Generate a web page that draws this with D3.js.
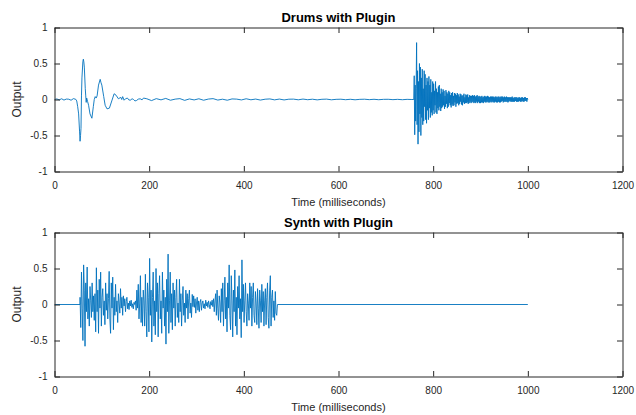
<!DOCTYPE html>
<html><head><meta charset="utf-8">
<script src="https://cdn.jsdelivr.net/npm/d3@7"></script>
<style>
html,body{margin:0;padding:0;background:#fff;}
svg{display:block;font-family:Arial,"Liberation Sans",Helvetica,sans-serif;}
</style></head>
<body><svg id="c" width="636" height="415"></svg>
<script>
// ---------------- data ----------------
const xTicks = [0, 200, 400, 600, 800, 1000, 1200];
const yTicks = [-1, -0.5, 0, 0.5, 1];
const titles = ["Drums with Plugin", "Synth with Plugin"];
const xLabel = "Time (milliseconds)";
const yLabel = "Output";

// Drums: initial transient (time ms, value)
const drumHitT = [0,5,10,15,20,25,30,35,40,45,47,49,51,53,54,55,56,57,58,60,61,62,63,65,66,67,68,70,72,75,79,82,84,86,88,90,93,96.5,98,100,104,107,111,116,121,126,130,135,140,142,144,147,150,154,157,160,164,167,170,173,177,181,185,188];
const drumHitV = [0,0.008,-0.005,0.01,-0.008,0.006,0.004,-0.01,0.012,0.002,-0.02,-0.1,-0.2,-0.45,-0.58,-0.5,-0.4,0.05,0.3,0.53,0.56,0.52,0.45,0.15,0.05,-0.04,0.02,-0.03,-0.08,-0.2,-0.26,-0.1,0.0,0.04,0.02,0.05,0.2,0.28,0.24,0.2,0.04,-0.08,-0.13,-0.12,-0.02,0.08,0.06,0.01,0.03,0.0,0.04,-0.01,0.01,0.02,-0.005,-0.01,0.01,0.0,-0.02,-0.015,0.005,0.01,-0.005,0.02];
// Drums: quiet section (time ms, value)
const drumQuietT = [195,205,215,225,235,245,255,265,275,285,295,305,315,325,335,345,355,365,375,385,395,405,415,425,435,445,455,465,475,485,495,505,515,525,535,545,555,565,575,585,595,605,615,625,635,645,655,665,675,685,695,705,715,725,735,745,755,759];
const drumQuietV = [0.01,-0.015,0.012,-0.005,0.015,-0.01,0.005,0.012,-0.012,0.008,-0.006,0.01,-0.01,0.006,0.012,-0.008,0.004,-0.01,0.008,0.005,-0.006,0.01,-0.004,0.006,-0.008,0.004,0.008,-0.005,0.006,-0.006,0.004,0.005,-0.004,0.006,-0.003,0.004,-0.005,0.003,0.005,-0.004,0.002,0.004,-0.003,0.003,-0.004,0.002,0.004,-0.002,0.003,-0.003,0.002,0.003,-0.002,0.002,-0.003,0.002,0.0,0.0];
// Drums: second hit, one value per ms starting at 760 ms
const drumBurstStart = 760, drumBurstStep = 1;
const drumBurstV = [
0.33,-0.49,0.2,-0.3,0.15,0.79,-0.35,0.4,-0.62,0.25,
-0.45,0.5,-0.2,0.45,-0.5,0.3,-0.25,0.42,-0.35,0.15,
-0.3,0.4,-0.1,0.35,-0.28,0.2,-0.33,0.3,-0.15,0.25,
-0.28,0.32,-0.12,0.2,-0.25,0.28,-0.18,0.1,-0.22,0.25,
-0.15,0.22,-0.2,0.12,-0.08,0.25,-0.18,0.15,-0.2,0.1,
-0.12,0.18,-0.15,0.2,-0.1,0.08,-0.16,0.15,-0.12,0.1,
-0.1,0.14,-0.08,0.12,-0.13,0.05,-0.1,0.13,-0.06,0.1,
-0.12,0.08,-0.1,0.12,-0.05,0.1,-0.08,0.06,-0.11,0.09,
-0.07,0.1,-0.09,0.05,-0.08,0.09,-0.04,0.08,-0.1,0.06,
-0.06,0.09,-0.05,0.07,-0.08,0.04,-0.06,0.08,-0.03,0.07,
-0.07,0.05,-0.08,0.06,-0.04,0.08,-0.06,0.03,-0.05,0.07,
-0.05,0.06,-0.04,0.07,-0.06,0.03,-0.05,0.06,-0.03,0.05,
-0.05,0.05,-0.04,0.06,-0.03,0.05,-0.05,0.06,-0.04,0.04,
-0.05,0.05,-0.03,0.06,-0.05,0.04,-0.03,0.05,-0.05,0.04,
-0.05,0.04,-0.04,0.05,-0.04,0.03,-0.05,0.04,-0.03,0.05,
-0.04,0.04,-0.04,0.04,-0.03,0.05,-0.04,0.04,-0.04,0.03,
-0.04,0.04,-0.03,0.04,-0.04,0.04,-0.03,0.04,-0.04,0.03,
-0.04,0.04,-0.03,0.04,-0.04,0.03,-0.04,0.04,-0.03,0.04,
-0.04,0.03,-0.04,0.04,-0.03,0.04,-0.02,0.04,-0.04,0.03,
-0.03,0.04,-0.03,0.03,-0.03,0.04,-0.03,0.03,-0.04,0.03,
-0.03,0.03,-0.02,0.03,-0.03,0.03,-0.03,0.04,-0.03,0.02,
-0.03,0.03,-0.03,0.03,-0.02,0.03,-0.03,0.03,-0.03,0.02,
-0.03,0.03,-0.02,0.03,-0.03,0.02,-0.03,0.03,-0.02,0.03,
-0.03,0.02,-0.03,0.03,-0.02,0.03,-0.02,0.02,-0.03,0.02,
0.0];

// Synth: silence, noisy section (one value per 1.5 ms from 54 ms), silence
const synthLeadT = [0, 54], synthLeadV = [0, 0];
const synthNoiseStart = 54, synthNoiseStep = 1.5;
const synthNoiseV = [
0.1,-0.32,0.45,-0.05,-0.5,0.55,0.2,-0.58,0.3,-0.1,
0.52,-0.2,0.08,-0.3,0.25,0.05,-0.18,0.3,-0.1,0.12,
-0.22,0.15,-0.38,0.51,-0.1,0.2,-0.4,0.35,-0.05,0.45,
-0.3,0.1,0.22,-0.15,0.05,-0.28,0.3,-0.08,0.15,-0.2,
0.08,0.46,-0.2,-0.4,0.3,-0.05,0.38,-0.35,0.1,-0.15,
0.28,-0.1,0.05,-0.25,0.15,0.02,-0.12,0.22,-0.05,0.1,
-0.15,0.12,-0.02,0.08,-0.1,0.04,0.1,-0.06,0.02,-0.07,
0.05,-0.02,0.06,-0.04,0.01,-0.06,0.03,0.0,0.05,-0.08,
0.2,-0.05,0.28,-0.2,0.02,0.4,-0.25,0.1,-0.3,0.2,
0.05,-0.3,0.42,-0.1,-0.45,0.3,0.1,-0.38,0.64,-0.15,
0.2,-0.52,0.1,0.45,-0.3,0.05,-0.42,0.5,-0.1,0.3,
-0.45,0.15,0.4,-0.2,0.05,-0.4,0.45,-0.05,0.2,-0.3,
0.1,-0.55,0.35,-0.1,0.7,-0.4,0.05,0.45,-0.25,0.15,
-0.35,0.3,-0.05,0.2,-0.3,0.1,0.35,-0.18,0.02,-0.25,
0.35,-0.1,0.15,-0.3,0.05,0.25,-0.15,0.02,-0.25,0.2,
-0.05,0.15,-0.2,0.08,0.2,-0.12,0.02,-0.18,0.14,-0.03,
0.12,-0.04,0.08,-0.12,0.02,0.1,-0.08,0.05,-0.1,0.03,
0.07,-0.08,0.02,0.05,-0.05,0.01,-0.06,0.06,-0.02,0.03,
-0.04,0.05,0.0,-0.06,0.04,-0.01,0.06,-0.03,0.08,-0.1,
0.05,0.15,-0.15,0.2,-0.05,-0.22,0.12,0.02,-0.25,0.22,
-0.1,0.3,-0.3,0.05,0.38,-0.2,0.1,-0.38,0.3,-0.05,
0.55,-0.15,-0.35,0.4,0.05,-0.45,0.2,-0.1,0.48,-0.3,
0.1,-0.42,0.25,-0.05,0.4,-0.2,0.08,-0.46,0.62,-0.1,
0.28,-0.25,0.05,0.3,-0.1,-0.3,0.15,0.02,-0.22,0.3,
-0.05,0.25,-0.3,0.1,0.3,-0.15,-0.25,0.18,0.02,-0.28,
0.22,-0.05,-0.33,0.2,0.05,-0.25,0.28,-0.1,0.18,-0.3,
0.05,0.22,-0.28,0.1,0.3,-0.18,-0.33,0.2,0.4,-0.3,
0.1,0.2,-0.18,0.05,-0.22,0.18,-0.12,-0.15];
const synthTailT = [471, 1000], synthTailV = [0, 0];

// ---------------- build series ----------------
function pairs(T, V){ return T.map((t,i)=>[t, V[i]]); }
function sampled(start, step, V){ return V.map((v,i)=>[start + i*step, v]); }

const drums = [].concat(pairs(drumHitT, drumHitV), pairs(drumQuietT, drumQuietV), sampled(drumBurstStart, drumBurstStep, drumBurstV));
const synth = [].concat(pairs(synthLeadT, synthLeadV), sampled(synthNoiseStart, synthNoiseStep, synthNoiseV), pairs(synthTailT, synthTailV));
const series = [drums, synth];

// ---------------- layout ----------------
const svg = d3.select("#c");
const left = 54.5, right = 622.5;
const panels = [{top: 27.5, bottom: 171.5}, {top: 232.5, bottom: 376.5}];
const ink = "#262626";
const lineColor = "#0072BD";
const tickLen = 5.5;

panels.forEach((p, k) => {
  const x = d3.scaleLinear().domain([0, 1200]).range([left, right]);
  const y = d3.scaleLinear().domain([-1, 1]).range([p.bottom, p.top]);
  const g = svg.append("g");

  const clipId = "clip" + k;
  svg.append("clipPath").attr("id", clipId).append("rect")
    .attr("x", left).attr("y", p.top).attr("width", right-left).attr("height", p.bottom-p.top);

  const line = d3.line().x(d=>x(d[0])).y(d=>y(d[1]));
  g.append("path").datum(series[k])
    .attr("clip-path", `url(#${clipId})`)
    .attr("fill","none").attr("stroke", lineColor).attr("stroke-width", 0.9)
    .attr("stroke-linejoin","round")
    .attr("d", line);

  const axB = d3.axisBottom(x).tickValues(xTicks).tickSizeInner(-tickLen).tickSizeOuter(0).tickPadding(10).tickFormat(d3.format("d"));
  const axT = d3.axisTop(x).tickValues(xTicks).tickSizeInner(-tickLen).tickSizeOuter(0).tickFormat("");
  const axL = d3.axisLeft(y).tickValues(yTicks).tickSizeInner(-tickLen).tickSizeOuter(0).tickPadding(10).tickFormat(d=>d===0?"0":String(d));
  const axR = d3.axisRight(y).tickValues(yTicks).tickSizeInner(-tickLen).tickSizeOuter(0).tickFormat("");

  const gb = g.append("g").attr("transform",`translate(0,${p.bottom})`).call(axB);
  const gt = g.append("g").attr("transform",`translate(0,${p.top})`).call(axT);
  const gl = g.append("g").attr("transform",`translate(${left},0)`).call(axL);
  const gr = g.append("g").attr("transform",`translate(${right},0)`).call(axR);
  [gb,gt,gl,gr].forEach(a=>{
    a.select(".domain").attr("stroke", ink).attr("stroke-width",1);
    a.selectAll(".tick line").attr("stroke", ink).attr("stroke-width",1);
    a.selectAll(".tick text").attr("fill", ink).style("font-size","10px").style("font-family","Arial,'Liberation Sans',sans-serif");
  });
  gl.selectAll(".tick text").attr("x", -7);
  gb.selectAll(".tick text").attr("y", 10);

  g.append("text").attr("x", (left+right)/2).attr("y", p.top - 5.5)
    .attr("text-anchor","middle").attr("fill","#000").style("font-weight","bold").style("font-size","13px")
    .text(titles[k]);
  g.append("text").attr("x", (left+right)/2).attr("y", p.bottom + 34.5)
    .attr("text-anchor","middle").attr("fill", ink).style("font-size","11px")
    .text(xLabel);
  g.append("text").attr("transform",`translate(21,${(p.top+p.bottom)/2}) rotate(-90)`)
    .attr("text-anchor","middle").attr("fill", ink).style("font-size","12px")
    .text(yLabel);
});
</script></body></html>
